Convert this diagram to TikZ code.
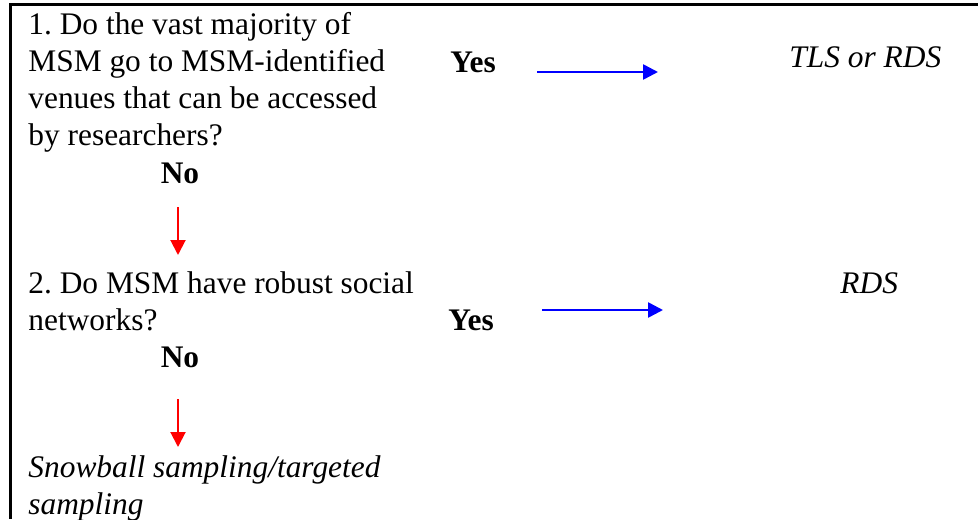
\documentclass[tikz,border=0pt]{standalone}
\usepackage{fontspec}
\setmainfont{Liberation Serif}
\frenchspacing
\definecolor{yesblue}{RGB}{0, 0, 255}
\definecolor{nored}{RGB}{255, 0, 0}
\usetikzlibrary{arrows.meta,positioning}

\begin{document}
\begin{tikzpicture}[x=0.5pt, y=-0.5pt,
    every node/.style={inner sep=0pt, font=\fontsize{15.7}{18.4}\selectfont},
    txt/.style={anchor=base west, align=left},
    yesarrow/.style={-{Triangle[length=7.5pt, width=7.5pt]}, yesblue, line width=1.3pt},
    noarrow/.style={-{Triangle[length=7.5pt, width=7.5pt]}, nored, line width=1pt}]
        \useasboundingbox (0,0) rectangle (978,519);
        % Frame
        \draw[line width=1.5pt] (978,5) -- (10.5,5) -- (10.5,519);

        % Questions (base = last line)
        \node[txt] (Q1) at (28, 145) {1. Do the vast majority of\\MSM go to MSM-identified\\venues that can be accessed\\by researchers?};
        \node[anchor=base, font=\fontsize{15.7}{18.4}\selectfont\bfseries] (No1) at (180, 183) {No};
        \node[txt] (Q2) at (28, 330) {2. Do MSM have robust social\\networks?};
        \node[anchor=base, font=\fontsize{15.7}{18.4}\selectfont\bfseries] (No2) at (180, 367) {No};
        \node[txt, font=\fontsize{15.7}{18.4}\selectfont\itshape] (Snow) at (28, 514) {Snowball sampling/targeted\\sampling};

        % Answers
        \node[txt, font=\fontsize{15.7}{18.4}\selectfont\bfseries] (Yes1) at (450, 73) {Yes};
        \node[txt, font=\fontsize{15.7}{18.4}\selectfont\bfseries] (Yes2) at (448, 330) {Yes};
        \node[txt, font=\fontsize{15.7}{18.4}\selectfont\itshape] (TLS) at (789, 68) {TLS or RDS};
        \node[txt, font=\fontsize{15.7}{18.4}\selectfont\itshape] (RDS) at (840, 293) {RDS};

        % Arrows
        \coordinate (Y1a) at (537, 72);
        \coordinate (Y1b) at (658, 72);
        \coordinate (Y2a) at (542, 310);
        \coordinate (Y2b) at (663, 310);
        \coordinate (N1a) at (178, 207);
        \coordinate (N1b) at (178, 255);
        \coordinate (N2a) at (178, 399);
        \coordinate (N2b) at (178, 447);
        \draw[yesarrow] (Y1a) -- (Y1b);
        \draw[yesarrow] (Y2a) -- (Y2b);
        \draw[noarrow] (N1a) -- (N1b);
        \draw[noarrow] (N2a) -- (N2b);
      \end{tikzpicture}
\end{document}
